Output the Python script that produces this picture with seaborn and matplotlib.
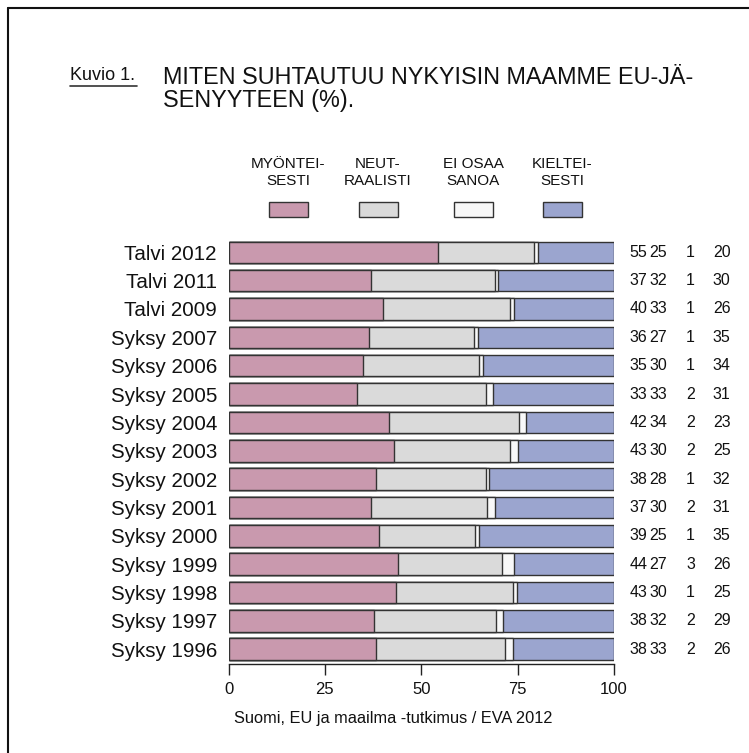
import matplotlib
matplotlib.use("Agg")
import matplotlib.pyplot as plt
import seaborn as sns
import numpy as np
import pandas as pd
from matplotlib.patches import Rectangle
from matplotlib.lines import Line2D

categories = ["Talvi 2012", "Talvi 2011", "Talvi 2009", "Syksy 2007", "Syksy 2006",
              "Syksy 2005", "Syksy 2004", "Syksy 2003", "Syksy 2002", "Syksy 2001",
              "Syksy 2000", "Syksy 1999", "Syksy 1998", "Syksy 1997", "Syksy 1996"]
myonteisesti = [55, 37, 40, 36, 35, 33, 42, 43, 38, 37, 39, 44, 43, 38, 38]
neutraalisti = [25, 32, 33, 27, 30, 33, 34, 30, 28, 30, 25, 27, 30, 32, 33]
ei_osaa = [1, 1, 1, 1, 1, 2, 2, 2, 1, 2, 1, 3, 1, 2, 2]
kielteisesti = [20, 30, 26, 35, 34, 31, 23, 25, 32, 31, 35, 26, 25, 29, 26]
series_labels = ["MYÖNTEI-\nSESTI", "NEUT-\nRAALISTI", "EI OSAA\nSANOA", "KIELTEI-\nSESTI"]
colors = ["#C999AE", "#DADADA", "#F8F8F8", "#9BA5CF"]
xticks = [0, 25, 50, 75, 100]

sns.set_theme(style="white")
plt.rcParams["font.family"] = ["Liberation Sans", "DejaVu Sans"]

df = pd.DataFrame({"cat": categories, "m": myonteisesti, "n": neutraalisti,
                   "e": ei_osaa, "k": kielteisesti})
tot = df[["m", "n", "e", "k"]].sum(axis=1)
for c in ["m", "n", "e", "k"]:
    df[c + "_p"] = df[c] / tot * 100
df["c1"] = df["m_p"]
df["c2"] = df["c1"] + df["n_p"]
df["c3"] = df["c2"] + df["e_p"]
df["c4"] = df["c3"] + df["k_p"]

fig = plt.figure(figsize=(7.49, 7.53), dpi=100)
ax = fig.add_axes([0.3051, 0.1182, 0.5147, 0.5656])

for col, color in zip(["c4", "c3", "c2", "c1"], colors[::-1]):
    sns.barplot(data=df, x=col, y="cat", orient="h", color=color, width=0.76,
                edgecolor="#333333", linewidth=1.0, saturation=1, ax=ax)

ax.set_xlim(0, 100)
ax.set_ylim(14.52, -0.5)
ax.set_xlabel("")
ax.set_ylabel("")
for s in ["top", "right", "left"]:
    ax.spines[s].set_visible(False)
ax.spines["bottom"].set_color("#222222")
ax.spines["bottom"].set_linewidth(1.0)
ax.set_xticks(xticks)
ax.set_xticklabels([str(t) for t in xticks], fontsize=12)
ax.tick_params(axis="x", bottom=True, length=8, width=1.0, color="#222222", pad=5, labelcolor="#111111")
ax.tick_params(axis="y", left=False, length=0, pad=8.3, labelsize=14.8, labelcolor="#111111")

# right-side values
col_x = [108.6, 113.8, 121.0, 130.2]
for i in range(len(categories)):
    vals = [myonteisesti[i], neutraalisti[i], ei_osaa[i], kielteisesti[i]]
    for xv, v in zip(col_x, vals):
        ax.text(xv, i, str(v), ha="right", va="center", fontsize=11.5,
                color="#111111", clip_on=False)

# legend
W, H = 749, 753
leg_cx = [288, 378, 473, 562]
for cx, lab, color in zip(leg_cx, series_labels, colors):
    fig.text(cx / W, 1 - 172.5 / H, lab, ha="center", va="center", fontsize=11,
             color="#111111", linespacing=1.2)
    fig.add_artist(Rectangle(((cx - 19.5) / W, 1 - 217 / H), 39 / W, 15 / H,
                             facecolor=color, edgecolor="#333333", linewidth=1.0,
                             transform=fig.transFigure))

# titles
fig.text(70 / W, 1 - 75.5 / H, "Kuvio 1.", ha="left", va="center", fontsize=13, color="#111111")
fig.add_artist(Line2D([70 / W, 137 / W], [1 - 85.5 / H, 1 - 85.5 / H], color="#333333",
                      linewidth=1.2, transform=fig.transFigure))
fig.text(163 / W, 1 - 77 / H, "MITEN SUHTAUTUU NYKYISIN MAAMME EU-JÄ-",
         ha="left", va="center", fontsize=16.8, color="#111111")
fig.text(163 / W, 1 - 100.5 / H, "SENYYTEEN (%).",
         ha="left", va="center", fontsize=16.8, color="#111111")

fig.text(393 / W, 1 - 718.5 / H, "Suomi, EU ja maailma -tutkimus / EVA 2012",
         ha="center", va="center", fontsize=11.8, color="#111111")

# frame lines (top and left)
fig.add_artist(Line2D([7.5 / W, 1], [1 - 8 / H, 1 - 8 / H], color="#111111", linewidth=1.5,
                      transform=fig.transFigure))
fig.add_artist(Line2D([7.5 / W, 7.5 / W], [0, 1 - 8 / H], color="#111111", linewidth=1.5,
                      transform=fig.transFigure))

fig.savefig("out.png", dpi=100)
